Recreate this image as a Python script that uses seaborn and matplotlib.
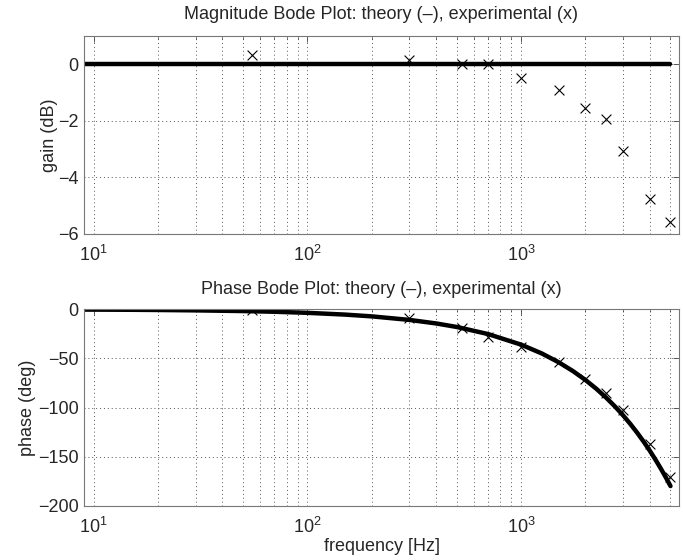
import numpy as np
import pandas as pd
import matplotlib
matplotlib.use("Agg")
import matplotlib.pyplot as plt
import seaborn as sns
from matplotlib.ticker import LogLocator, NullFormatter

# ---- data ----
exp_freq = [55, 300, 530, 700, 1000, 1500, 2000, 2500, 3000, 4000, 5000]
exp_gain = [0.32, 0.14, 0.0, 0.0, -0.5, -0.9, -1.56, -1.95, -3.06, -4.78, -5.56]
exp_phase = [-1.0, -9.2, -18.7, -27.9, -38.1, -53.4, -71.3, -85.5, -102.5, -137.2, -171.0]

theory_freq = [9, 15, 20, 30, 50, 70, 100, 150, 200, 300, 400, 500, 700, 1000,
               1250, 1500, 1750, 2000, 2250, 2500, 2750, 3000, 3250, 3500,
               3750, 4000, 4250, 4500, 4750, 5000]
theory_gain = [0.0] * len(theory_freq)
theory_phase = [-0.3, -0.5, -0.7, -1.1, -1.8, -2.5, -3.6, -5.4, -7.2, -10.8,
                -14.4, -18.0, -25.2, -36.0, -45.0, -54.0, -63.0, -72.0, -81.0,
                -90.0, -99.0, -108.0, -117.0, -126.0, -135.0, -144.0, -153.0,
                -162.0, -171.0, -180.0]

xticks = [10, 100, 1000]
gain_ticks = [-6, -4, -2, 0]
phase_ticks = [-200, -150, -100, -50, 0]

theory_df = pd.DataFrame({"freq": theory_freq, "gain": theory_gain, "phase": theory_phase})
exp_df = pd.DataFrame({"freq": exp_freq, "gain": exp_gain, "phase": exp_phase})

sns.set_style("white")
plt.rcParams["font.family"] = ["Liberation Sans", "DejaVu Sans"]
plt.rcParams["mathtext.fontset"] = "custom"
plt.rcParams["mathtext.rm"] = "Liberation Sans"
plt.rcParams["mathtext.it"] = "Liberation Sans:italic"
plt.rcParams["mathtext.default"] = "regular"

fs = 13
fig = plt.figure(figsize=(6.83, 5.6), dpi=100)
ax1 = fig.add_axes([84 / 683, 1 - 234 / 560, (679 - 84) / 683, (234 - 35.7) / 560])
ax2 = fig.add_axes([84 / 683, 1 - 505.7 / 560, (679 - 84) / 683, (505.7 - 309.3) / 560])

def style(ax):
    ax.set_xscale("log")
    ax.set_xlim(9, 5480)
    ax.xaxis.set_major_locator(LogLocator(base=10, numticks=10))
    ax.xaxis.set_minor_locator(LogLocator(base=10, subs=np.arange(2, 10), numticks=20))
    ax.xaxis.set_minor_formatter(NullFormatter())
    ax.grid(True, which="major", axis="both", linestyle=(0, (1, 3)), color="#555555", linewidth=0.7)
    ax.grid(True, which="minor", axis="x", linestyle=(0, (1, 3)), color="#555555", linewidth=0.7)
    ax.tick_params(axis="both", which="both", direction="in", top=True, right=True,
                   labelsize=fs, color="#444444")
    ax.tick_params(which="major", length=4, width=0.6, pad=4)
    ax.tick_params(axis="x", which="major", pad=8)
    ax.tick_params(which="minor", length=2, width=0.5)
    for sp in ax.spines.values():
        sp.set_color("#777777")
        sp.set_linewidth(0.8)
    ax.set_axisbelow(True)

sns.lineplot(data=theory_df, x="freq", y="gain", ax=ax1, color="black", linewidth=3.2, sort=False)
sns.scatterplot(data=exp_df, x="freq", y="gain", ax=ax1, marker="x", color="black", s=50, linewidth=0.8)
style(ax1)
ax1.set_ylim(-6, 1)
ax1.set_yticks(gain_ticks)
ax1.set_xlabel("")
ax1.set_ylabel("gain (dB)", fontsize=fs, labelpad=0)
ax1.set_title("Magnitude Bode Plot: theory (\u2013), experimental (x)", fontsize=fs, pad=12)

sns.lineplot(data=theory_df, x="freq", y="phase", ax=ax2, color="black", linewidth=3.2, sort=False)
sns.scatterplot(data=exp_df, x="freq", y="phase", ax=ax2, marker="x", color="black", s=50, linewidth=0.8)
style(ax2)
ax2.set_ylim(-200, 0)
ax2.set_yticks(phase_ticks)
ax2.set_xlabel("frequency [Hz]", fontsize=fs, labelpad=1)
ax2.set_ylabel("phase (deg)", fontsize=fs, labelpad=1)
ax2.set_title("Phase Bode Plot: theory (\u2013), experimental (x)", fontsize=fs, pad=11)

for ax in (ax1, ax2):
    ax.set_xticks(xticks)

fig.savefig("out.png", dpi=100)
